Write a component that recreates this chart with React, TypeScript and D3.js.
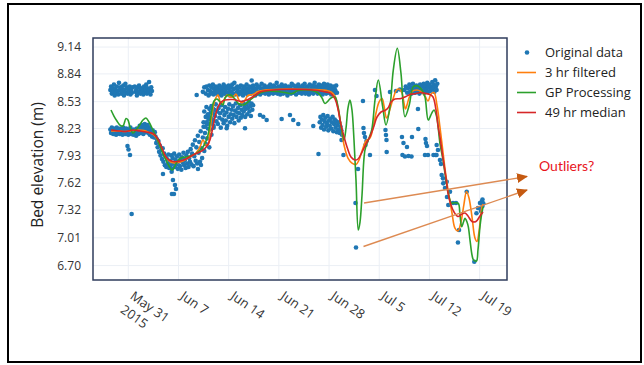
import React from "react";
import * as d3 from "d3";

// ---------- data ----------
// Time is counted in days from 31 May 2015 (00:00).
const ORIGIN = new Date(2015, 4, 31);
const SAMPLE_STEP = 0.1; // days between raw gauge readings in the sampled runs

const xDomainDays = [-4.92, 52.82];
const yDomain = [6.539, 9.241];

const xTickDays = [0, 7, 14, 21, 28, 35, 42, 49];
const xTickYear = "2015";
const yTickValues = [6.7, 7.01, 7.32, 7.62, 7.93, 8.23, 8.53, 8.84, 9.14];

const legendLabels = ["Original data", "3 hr filtered", "GP Processing", "49 hr median"];
const yTitle = "Bed elevation (m)";
const noteText = "Outliers?";

// raw readings, upper return, late May - early June
const rawUpperLeftStart = -2.5;
const rawUpperLeft: (number | null)[] = [
  8.66, 8.70, 8.62, 8.68, 8.64, 8.72, 8.60, 8.67, 8.63, 8.70,
  8.65, 8.61, 8.74, 8.66, 8.69, 8.62, 8.68, 8.64, 8.71, 8.60,
  8.66, 8.73, 8.63, 8.69, 8.62, 8.67, 8.64, 8.70, 8.61, 8.66,
  8.63, 8.69, null, null, 8.70, 8.64, 8.66, 8.60, 8.69, 8.63,
  8.71, 8.65, 8.62, 8.68, 8.64, 8.67, 8.61, 8.70, 8.63, 8.66,
  8.72, 8.62, 8.68, 8.64, 8.75, 8.66, 8.61, 8.69, 8.65,
];

// raw readings, lower return, late May - early June
const rawLowerLeftStart = -2.5;
const rawLowerLeft: (number | null)[] = [
  8.22, 8.18, 8.24, 8.20, 8.17, 8.23, 8.19, 8.21, 8.16, 8.24,
  8.20, 8.18, 8.22, 8.17, 8.23, 8.19, 8.21, 8.16, 8.24, 8.18,
  8.21, 8.17, 8.23, 8.19, 8.20, 8.16, 8.22, 8.18, 8.24, 8.17,
  8.21, 8.19, 8.16, 8.22, 8.18, 8.20, 8.15, 8.23, 8.19, 8.17,
  8.22, 8.26, 8.18, 8.24, 8.20, 8.27, 8.17, 8.23, 8.28, 8.19,
  8.25, 8.21, 8.27, 8.18, 8.24, 8.16, 8.22, 8.19, 8.14, 8.21,
  8.17, 8.13, 8.19,
];

// raw readings through the early-June scour trough and refill
const rawTroughStart = 3.8;
const rawTrough: (number | null)[] = [
  8.14, 8.07, 8.11, 8.02, 8.09, 7.97, 8.04, 7.93, 7.99, 7.89,
  8.01, 7.86, 7.95, 7.82, 7.92, 7.80, 7.89, 7.84, 7.94, 7.79,
  7.87, 7.82, 7.93, 7.78, 7.90, 7.84, 7.95, 7.80, 7.88, 7.83,
  7.92, 7.78, 7.86, 7.94, 7.81, 7.89, 7.77, 7.91, 7.85, 7.96,
  7.82, 7.88, 7.79, 7.93, 7.84, 7.97, 7.80, 7.90, 7.86, 8.00,
  7.83, 7.95, 8.05, 7.81, 7.92, 8.10, 7.87, 8.02, 7.84, 8.15,
  7.96, 8.08, 7.86, 8.20, 8.01, 7.90, 8.13, 8.25, 7.98, 8.18,
  8.06, 8.30, 8.12, 8.23, 8.36, 8.02, 8.28, 8.41, 8.16, 8.33,
  8.45, 8.24,
];

// raw readings, lower return, mid June
const rawLowerMidStart = 10.5;
const rawLowerMid: (number | null)[] = [
  8.30, 8.42, 8.25, 8.36, 8.47, 8.28, 8.39, 8.33, 8.45, 8.22,
  8.35, 8.48, 8.30, 8.40, 8.26, 8.44, 8.37, 8.50, 8.31, 8.42,
  8.28, 8.46, 8.35, 8.40, 8.24, 8.49, 8.33, 8.43, 8.29, 8.38,
  8.47, 8.32, 8.41, 8.26, 8.45, 8.36, 8.50, 8.30, 8.39, 8.44,
  8.34, 8.48, 8.38, 8.29, 8.43, 8.51, 8.36, 8.41, 8.46, 8.32,
  8.40, 8.49, 8.35, 8.44, 8.38, 8.52, 8.42, 8.47, 8.36, 8.45,
  8.50, 8.39, 8.46, 8.53, 8.42, 8.48, 8.37, 8.51, 8.44, 8.49,
];

// raw readings, upper return, June plateau
const rawUpperMidStart = 10.4;
const rawUpperMid: (number | null)[] = [
  8.64, null, 8.69, null, 8.62, 8.70, null, 8.66, 8.60, 8.71,
  8.65, 8.62, 8.69, 8.63, 8.72, 8.61, 8.67, 8.64, 8.70, 8.62,
  8.68, 8.65, 8.61, 8.71, 8.63, 8.67, 8.60, 8.69, 8.64, 8.72,
  8.62, 8.66, 8.70, 8.61, 8.68, 8.63, 8.71, 8.65, 8.60, 8.69,
  8.64, 8.72, 8.62, 8.67, 8.74, 8.61, 8.68, 8.63, 8.70, 8.65,
  8.61, 8.69, 8.64, 8.71, 8.62, 8.66, 8.60, 8.70, 8.63, 8.68,
  8.65, 8.72, 8.61, 8.67, 8.63, 8.70, 8.64, 8.62, 8.69, 8.66,
  8.71, 8.63, 8.68, 8.60, 8.66, 8.72, 8.62, 8.69, 8.64, 8.70,
  8.61, 8.67, 8.73, 8.63, 8.68, 8.65, 8.71, 8.62, 8.66, 8.69,
  8.64, 8.70, 8.61, 8.67, 8.72, 8.63, 8.68, 8.65, 8.62, 8.71,
  8.66, 8.69, 8.63, 8.74, 8.62, 8.67, 8.70, 8.64, 8.61, 8.68,
  8.72, 8.65, 8.62, 8.69, 8.66, 8.71, 8.63, 8.68, 8.60, 8.67,
  8.70, 8.64, 8.69, 8.62, 8.73, 8.66, 8.63, 8.71, 8.65, 8.68,
  8.61, 8.70, 8.66, 8.72, 8.63, 8.68, 8.64, 8.69, 8.62, 8.71,
  8.65, 8.67, 8.73, 8.62, 8.69, 8.64, 8.70, 8.66, 8.61, 8.72,
  8.63, 8.68, 8.65, 8.71, 8.62, 8.69, 8.74, 8.64, 8.67, 8.70,
  8.62, 8.66, 8.72, 8.63, 8.69, 8.65, 8.71, 8.61, 8.68, 8.73,
  8.64, 8.70, 8.62, 8.67, 8.72, 8.63, 8.69, 8.66, 8.71, 8.61,
  8.68, 8.64, 8.70, 8.62, 8.67, 8.65, 8.71, 8.63,
];

// raw readings, lower return, late June
const rawLowerRightStart = 26.7;
const rawLowerRight: (number | null)[] = [
  8.30, 8.36, 8.24, 8.33, 8.27, 8.38, 8.22, 8.31, 8.35, 8.25,
  8.29, 8.37, 8.21, 8.32, 8.26, 8.34, 8.23, 8.30, 8.36, 8.20,
  8.28, 8.33, 8.24, 8.31, 8.19, 8.27, 8.22, 8.30, 8.18, 8.25,
  8.21, 8.16,
];

// raw readings, upper return, July plateau
const rawUpperRightStart = 38.5;
const rawUpperRight: (number | null)[] = [
  8.66, null, 8.70, null, 8.63, 8.68, null, 8.72, 8.64, 8.69,
  8.62, 8.67, 8.73, 8.65, 8.70, 8.63, 8.68, 8.71, 8.64, 8.66,
  8.69, 8.62, 8.72, 8.67, 8.64, 8.70, 8.65, 8.73, 8.63, 8.68,
  8.71, 8.66, 8.74, 8.64, 8.69, 8.72, 8.65, 8.70, 8.67, 8.75,
  8.68, 8.72, 8.64, 8.77, 8.70, 8.66, 8.73,
];

// isolated raw readings [day, elevation m]
const rawScattered: [number, number][] = [
  [-0.11, 8.035], [0.03, 7.996], [0.24, 7.934], [0.47, 7.276],
  [4.84, 7.722], [6.05, 7.748], [6.23, 7.655], [6.51, 7.6], [6.65, 7.555],
  [6.09, 7.499], [6.37, 7.499], [9.72, 7.778], [10.14, 7.823], [9.54, 8.604],
  [17.21, 8.766], [13.72, 8.233], [16.28, 8.233], [18.37, 8.381], [18.83, 8.362],
  [19.3, 8.325], [21.39, 8.336], [22.55, 8.381], [23.01, 8.325], [23.71, 8.281],
  [25.8, 8.258], [26.53, 7.946],
  [29.74, 8.102], [30.01, 7.934], [32.04, 7.778], [31.69, 7.399], [31.76, 6.902],
  [32.73, 8.537], [32.8, 8.236], [32.87, 8.18], [33.01, 8.135], [33.22, 8.091],
  [33.08, 8.046], [33.71, 7.935], [34.41, 8.66], [34.62, 8.593],
  [35.87, 8.214], [35.94, 8.158], [36.01, 8.102], [36.04, 7.968],
  [36.5, 8.638], [37.34, 8.649], [37.89, 8.666],
  [38.17, 8.135], [38.38, 8.068], [38.24, 7.935], [38.59, 7.918], [38.87, 8.024],
  [39.08, 7.923], [39.5, 7.918], [39.57, 8.135], [40.4, 8.448], [40.45, 8.225],
  [41.45, 8.113], [41.52, 8.068], [41.66, 8.035], [41.38, 7.935], [41.8, 7.935],
  [42.57, 7.935], [42.85, 7.935], [42.99, 7.935], [43.01, 8.046], [43.19, 7.99],
  [43.47, 7.879], [43.61, 7.834], [43.71, 7.711], [43.89, 7.674], [43.93, 7.618],
  [44.41, 7.636], [44.17, 7.566], [44.45, 7.466], [44.63, 7.376], [44.87, 7.525],
  [45.29, 7.399], [45.71, 7.399], [46.13, 7.097], [45.98, 6.957], [47.2, 7.525],
  [48.26, 6.743], [48.56, 7.284], [48.77, 7.343], [49.05, 7.399], [49.12, 7.337],
  [49.29, 7.413], [49.4, 7.365], [49.51, 7.395], [49.4, 7.438], [49.19, 7.309],
];

// the two readings flagged as suspect
const flaggedA: [number, number] = [31.69, 7.399];
const flaggedB: [number, number] = [31.76, 6.902];

// 3 hr filtered series [day, elevation m]
const filtered3hr: [number, number][] = [
  [-2.41, 8.202], [-1.44, 8.202], [-0.46, 8.197], [0.38, 8.202], [1.35, 8.214],
  [2.19, 8.208], [2.89, 8.186], [3.58, 8.158], [4.14, 8.091], [4.7, 7.99],
  [5.26, 7.906], [5.82, 7.862], [6.37, 7.845], [6.93, 7.851], [7.77, 7.873],
  [8.61, 7.912], [9.44, 7.957], [10.0, 8.024], [10.42, 8.102], [10.84, 8.046],
  [11.12, 8.046], [11.39, 8.202], [11.67, 8.381], [12.09, 8.548], [12.51, 8.604],
  [12.93, 8.504], [13.35, 8.548], [13.77, 8.604], [14.18, 8.582], [14.6, 8.582],
  [15.02, 8.615], [15.44, 8.548], [15.86, 8.515], [16.28, 8.548], [16.69, 8.599],
  [17.39, 8.61], [18.09, 8.643], [19.07, 8.66], [21.16, 8.669], [23.95, 8.669],
  [26.04, 8.666], [27.16, 8.66], [27.71, 8.655], [28.27, 8.638], [28.83, 8.593],
  [29.25, 8.459], [29.67, 8.269], [30.09, 8.046], [30.64, 7.901], [31.2, 7.845],
  [31.76, 7.828], [32.18, 7.879], [32.6, 7.979], [33.15, 8.091], [33.71, 8.124],
  [34.13, 8.236], [34.55, 8.403], [34.97, 8.526], [35.39, 8.565], [35.67, 8.482],
  [36.01, 8.348], [36.22, 8.37], [36.5, 8.448], [36.92, 8.56], [37.41, 8.66],
  [37.76, 8.671], [38.17, 8.627], [38.45, 8.515], [38.66, 8.448], [38.87, 8.493],
  [39.15, 8.571], [39.57, 8.643], [40.26, 8.66], [40.82, 8.643], [41.38, 8.593],
  [41.8, 8.537], [42.22, 8.615], [42.64, 8.632], [43.05, 8.493], [43.47, 8.247],
  [43.89, 7.968], [44.31, 7.7], [44.73, 7.477], [45.15, 7.287], [45.56, 7.119],
  [45.98, 7.086], [46.4, 7.186], [46.82, 7.387], [47.17, 7.527], [47.52, 7.454],
  [47.94, 7.242], [48.35, 7.008], [48.63, 6.969], [48.91, 7.075], [49.29, 7.343],
  [49.47, 7.387],
];

// GP processing series [day, elevation m]
const gpProcessing: [number, number][] = [
  [-2.41, 8.437], [-2.0, 8.37], [-1.58, 8.314], [-1.16, 8.269], [-0.74, 8.258],
  [-0.32, 8.342], [-0.04, 8.325], [0.24, 8.247], [0.66, 8.18], [1.07, 8.214],
  [1.63, 8.275], [2.05, 8.325], [2.47, 8.348], [2.89, 8.303], [3.31, 8.236],
  [3.86, 8.141], [4.42, 8.035], [4.84, 7.946], [5.26, 7.879], [5.68, 7.812],
  [6.09, 7.767], [6.37, 7.789], [6.79, 7.856], [7.35, 7.901], [8.05, 7.912],
  [9.02, 7.934], [9.72, 7.968], [10.42, 8.024], [10.84, 8.091], [11.12, 8.158],
  [11.39, 8.292], [11.67, 8.437], [11.95, 8.537], [12.37, 8.56], [12.79, 8.526],
  [13.21, 8.493], [13.49, 8.571], [13.91, 8.604], [14.32, 8.604], [14.88, 8.56],
  [15.44, 8.504], [16.0, 8.493], [16.42, 8.509], [16.97, 8.548], [17.67, 8.593],
  [18.37, 8.627], [19.48, 8.649], [20.88, 8.643], [21.86, 8.632], [22.83, 8.621],
  [23.67, 8.655], [24.65, 8.66], [25.62, 8.655], [26.46, 8.627], [27.02, 8.571],
  [27.43, 8.509], [27.85, 8.537], [28.27, 8.571], [28.83, 8.582], [29.25, 8.474],
  [29.76, 8.214], [30.09, 8.102], [30.37, 8.236], [30.64, 8.459], [30.92, 8.548],
  [31.2, 8.437], [31.48, 8.102], [31.76, 7.655], [32.08, 7.097], [32.32, 7.186],
  [32.6, 7.488], [33.01, 7.99], [33.47, 8.102], [33.95, 8.214], [34.41, 8.548],
  [34.87, 8.772], [35.48, 8.474], [35.94, 8.269], [36.5, 8.474], [36.96, 8.883],
  [37.52, 9.126], [38.03, 8.85], [38.59, 8.362], [39.19, 8.493], [39.75, 8.697],
  [40.4, 8.705], [40.96, 8.66], [41.38, 8.582], [41.84, 8.325], [42.31, 8.4],
  [42.64, 8.437], [43.01, 8.362], [43.47, 8.065], [43.89, 7.879], [44.17, 7.73],
  [44.63, 7.507], [45.1, 7.395], [45.56, 7.402], [46.03, 7.395], [46.26, 7.265],
  [46.5, 7.134], [46.75, 7.186], [46.96, 7.228], [47.24, 7.186], [47.42, 7.134],
  [47.66, 6.985], [47.94, 6.818], [48.15, 6.762], [48.56, 6.751], [48.77, 6.874],
  [49.05, 7.134], [49.33, 7.298], [49.51, 7.358],
];

// 49 hr running median [day, elevation m]
const median49hr: [number, number][] = [
  [-2.41, 8.214], [-1.16, 8.202], [-0.32, 8.197], [0.66, 8.214], [1.63, 8.202],
  [2.47, 8.191], [3.44, 8.174], [4.14, 8.113], [4.7, 8.013], [5.26, 7.912],
  [5.82, 7.873], [6.51, 7.86], [7.21, 7.867], [7.91, 7.884], [9.02, 7.934],
  [10.42, 7.99], [10.98, 8.035], [11.39, 8.102], [11.81, 8.247], [12.09, 8.359],
  [12.51, 8.47], [12.93, 8.526], [13.49, 8.548], [14.6, 8.554], [15.82, 8.532],
  [16.69, 8.554], [17.67, 8.599], [18.37, 8.638], [19.48, 8.655], [21.16, 8.666],
  [22.83, 8.669], [24.65, 8.666], [26.46, 8.655], [27.57, 8.638], [28.27, 8.621],
  [28.83, 8.56], [29.25, 8.448], [29.53, 8.325], [29.95, 8.18], [30.51, 8.024],
  [31.06, 7.912], [31.62, 7.879], [32.04, 7.89], [32.6, 7.968], [33.15, 8.057],
  [33.71, 8.141], [34.27, 8.258], [34.69, 8.359], [35.25, 8.415], [35.8, 8.431],
  [36.22, 8.459], [36.64, 8.526], [37.2, 8.56], [38.03, 8.565], [38.73, 8.588],
  [39.29, 8.61], [40.12, 8.621], [40.82, 8.632], [41.38, 8.623], [42.08, 8.61],
  [42.5, 8.582], [42.92, 8.437], [43.2, 8.258], [43.47, 8.135], [43.89, 7.901],
  [44.31, 7.678], [44.59, 7.51], [45.01, 7.376], [45.43, 7.298], [45.98, 7.248],
  [46.54, 7.276], [46.96, 7.287], [47.38, 7.253], [47.94, 7.192], [48.49, 7.192],
  [49.05, 7.253], [49.47, 7.298],
];

// ---------- layout ----------
const W = 644;
const H = 365;
const PLOT = { left: 93, right: 507, top: 38, bottom: 280 };
const COLORS = { raw: "#1f77b4", filt: "#ff7f0e", gp: "#2ca02c", med: "#d62728" };
const FONT = "'Open Sans', 'DejaVu Sans', sans-serif";

const dayToDate = (d: number) => new Date(ORIGIN.getTime() + d * 86400000);

function runToPoints(start: number, values: (number | null)[]): [number, number][] {
  const out: [number, number][] = [];
  values.forEach((v, i) => {
    if (v !== null) out.push([start + i * SAMPLE_STEP, v]);
  });
  return out;
}

const rawPoints: [number, number][] = [
  ...runToPoints(rawUpperLeftStart, rawUpperLeft),
  ...runToPoints(rawLowerLeftStart, rawLowerLeft),
  ...runToPoints(rawTroughStart, rawTrough),
  ...runToPoints(rawLowerMidStart, rawLowerMid),
  ...runToPoints(rawUpperMidStart, rawUpperMid),
  ...runToPoints(rawLowerRightStart, rawLowerRight),
  ...runToPoints(rawUpperRightStart, rawUpperRight),
  ...rawScattered,
];

export default function App() {
  const x = d3
    .scaleTime()
    .domain(xDomainDays.map(dayToDate))
    .range([PLOT.left, PLOT.right]);
  const y = d3.scaleLinear().domain(yDomain).range([PLOT.bottom, PLOT.top]);

  const px = (d: [number, number]) => x(dayToDate(d[0]));
  const py = (d: [number, number]) => y(d[1]);

  const line = d3
    .line<[number, number]>()
    .x(px)
    .y(py)
    .curve(d3.curveCatmullRom.alpha(0.5));

  const fmt = d3.timeFormat("%b %-d");
  const tickAngle = 35;

  // note + arrows
  const noteX = 539;
  const noteY = 171;
  const arrowColor = "#dd8a52";
  const headColor = "#c55a11";
  const arrowA = {
    x1: px(flaggedA) + 8.5,
    y1: py(flaggedA),
    x2: noteX - 12,
    y2: noteY + 5.5,
  };
  const arrowB = {
    x1: px(flaggedB) + 7.5,
    y1: py(flaggedB) - 1,
    x2: noteX - 12,
    y2: noteY + 19,
  };

  const legendX = 517;
  const legendY0 = 52.5;
  const legendGap = 20;

  return (
    <svg
      width={W}
      height={H}
      viewBox={`0 0 ${W} ${H}`}
      style={{ position: "absolute", left: 0, top: 0, background: "#fff" }}
      fontFamily={FONT}
    >
      <defs>
        <clipPath id="plot-clip">
          <rect
            x={PLOT.left}
            y={PLOT.top}
            width={PLOT.right - PLOT.left}
            height={PLOT.bottom - PLOT.top}
          />
        </clipPath>
        <marker
          id="note-head"
          markerUnits="userSpaceOnUse"
          markerWidth={11}
          markerHeight={10}
          refX={10}
          refY={5}
          orient="auto"
        >
          <path d="M0,0 L11,5 L0,10 Z" fill={headColor} />
        </marker>
      </defs>

      <rect x={0} y={0} width={W} height={H} fill="#fff" />
      <rect x={8} y={4} width={633} height={358} fill="none" stroke="#000" strokeWidth={2} />

      {/* grid */}
      <g stroke="#ebeff5" strokeWidth={1}>
        {xTickDays.map((d) => (
          <line
            key={`gx${d}`}
            x1={x(dayToDate(d))}
            x2={x(dayToDate(d))}
            y1={PLOT.top}
            y2={PLOT.bottom}
          />
        ))}
        {yTickValues.map((v) => (
          <line key={`gy${v}`} x1={PLOT.left} x2={PLOT.right} y1={y(v)} y2={y(v)} />
        ))}
      </g>

      {/* data */}
      <g clipPath="url(#plot-clip)">
        <g fill={COLORS.raw}>
          {rawPoints.map((d, i) => (
            <circle key={i} cx={px(d)} cy={py(d)} r={2.3} />
          ))}
        </g>
        <path d={line(filtered3hr) || ""} fill="none" stroke={COLORS.filt} strokeWidth={1.6} />
        <path d={line(gpProcessing) || ""} fill="none" stroke={COLORS.gp} strokeWidth={1.6} />
        <path d={line(median49hr) || ""} fill="none" stroke={COLORS.med} strokeWidth={1.6} />
      </g>

      {/* frame */}
      <rect
        x={PLOT.left}
        y={PLOT.top}
        width={PLOT.right - PLOT.left}
        height={PLOT.bottom - PLOT.top}
        fill="none"
        stroke="#2f3d5c"
        strokeWidth={1.5}
      />

      {/* y axis */}
      <g fontSize={12} fill="#333" textAnchor="end">
        {yTickValues.map((v) => (
          <text key={`ty${v}`} x={81} y={y(v) + 4.2}>
            {v.toFixed(2)}
          </text>
        ))}
      </g>
      <text
        transform="translate(43,165) rotate(-90)"
        textAnchor="middle"
        fontSize={15.5}
        fill="#222"
      >
        {yTitle}
      </text>

      {/* x axis */}
      <g fontSize={13} fill="#333">
        {xTickDays.map((d, i) => (
          <text
            key={`tx${d}`}
            transform={`translate(${x(dayToDate(d)) + 1},298) rotate(${tickAngle})`}
          >
            <tspan x={0}>{fmt(dayToDate(d))}</tspan>
            {i === 0 && (
              <tspan x={0} dy="1.3em">
                {xTickYear}
              </tspan>
            )}
          </text>
        ))}
      </g>

      {/* legend */}
      <g fontSize={13} fill="#222">
        <circle cx={legendX + 10} cy={legendY0} r={2.3} fill={COLORS.raw} />
        {[COLORS.filt, COLORS.gp, COLORS.med].map((c, i) => (
          <line
            key={c}
            x1={legendX}
            x2={legendX + 19}
            y1={legendY0 + legendGap * (i + 1)}
            y2={legendY0 + legendGap * (i + 1)}
            stroke={c}
            strokeWidth={1.6}
          />
        ))}
        {legendLabels.map((t, i) => (
          <text key={t} x={legendX + 28} y={legendY0 + legendGap * i + 4.6}>
            {t}
          </text>
        ))}
      </g>

      {/* annotation */}
      <g stroke={arrowColor} strokeWidth={1.4} fill="none">
        <line {...arrowA} markerEnd="url(#note-head)" />
        <line {...arrowB} markerEnd="url(#note-head)" />
      </g>
      <text x={noteX} y={noteY} fontSize={14} fill="#e8141c" fontFamily="Lato, 'Open Sans', sans-serif">
        {noteText}
      </text>
    </svg>
  );
}
